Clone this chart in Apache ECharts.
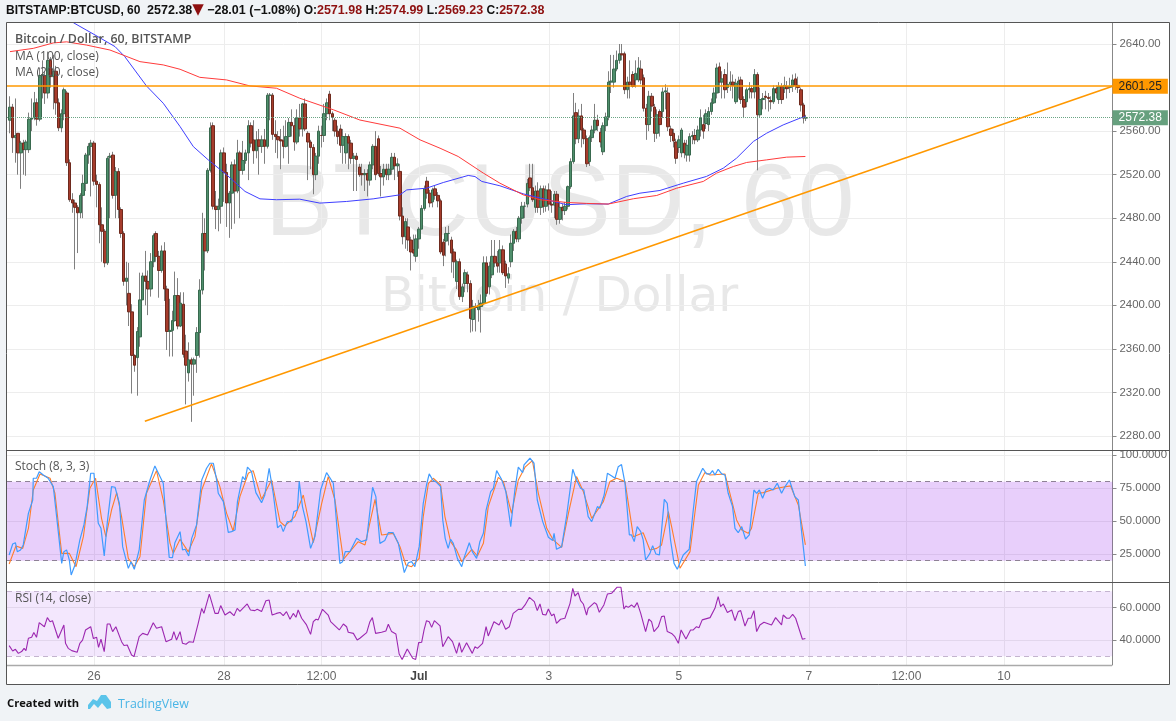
<!DOCTYPE html>
<html><head><meta charset="utf-8">
<style>html,body{margin:0;padding:0;background:#f0f3f6}#c{width:1176px;height:721px}</style>
<script src="https://cdn.jsdelivr.net/npm/echarts@6/dist/echarts.min.js"></script></head>
<body><div id="c"></div>
<script>
const firstHour=-31;
const opens=[2570,2582,2554,2558,2540,2549,2543,2543,2571,2572,2586,2571,2611,2611,2595,2625,2610,2615,2586,2563,2576,2595,2531,2497,2494,2490,2485,2501,2512,2538,2546,2549,2514,2511,2474,2468,2439,2536,2538,2501,2523,2488,2466,2422,2411,2394,2354,2352,2371,2405,2427,2422,2415,2440,2466,2445,2432,2450,2415,2376,2377,2386,2409,2381,2401,2358,2338,2350,2346,2354,2375,2414,2466,2450,2524,2565,2491,2488,2491,2540,2522,2494,2503,2529,2505,2540,2524,2533,2540,2565,2552,2542,2552,2546,2552,2546,2593,2593,2557,2555,2552,2551,2546,2555,2568,2565,2550,2572,2562,2585,2558,2550,2545,2520,2537,2556,2556,2576,2594,2576,2570,2560,2562,2547,2540,2555,2549,2535,2537,2527,2521,2520,2521,2515,2529,2546,2553,2521,2518,2525,2520,2525,2536,2528,2523,2482,2463,2472,2460,2451,2445,2461,2470,2489,2514,2503,2495,2507,2501,2496,2458,2459,2466,2460,2449,2422,2440,2408,2420,2428,2420,2387,2399,2396,2399,2402,2439,2417,2428,2445,2439,2439,2451,2438,2425,2440,2457,2468,2461,2480,2491,2493,2517,2508,2490,2505,2490,2507,2491,2506,2493,2492,2502,2479,2490,2487,2491,2509,2532,2577,2553,2574,2561,2553,2532,2554,2561,2570,2559,2541,2565,2573,2605,2605,2617,2625,2631,2631,2598,2605,2612,2607,2607,2617,2609,2581,2566,2592,2582,2558,2578,2578,2596,2595,2562,2558,2550,2545,2540,2549,2538,2538,2555,2556,2552,2561,2566,2567,2566,2578,2586,2595,2619,2605,2612,2600,2603,2605,2587,2604,2607,2589,2587,2598,2599,2596,2612,2575,2589,2592,2591,2588,2587,2599,2589,2601,2599,2601,2600,2601,2608,2602,2598,2584,2571.98];
const closes=[2582,2554,2556,2540,2549,2543,2550,2571,2572,2586,2571,2611,2612,2595,2625,2610,2615,2586,2563,2576,2598,2531,2497,2494,2490,2485,2501,2512,2538,2546,2549,2514,2511,2474,2468,2439,2535,2537,2501,2523,2488,2466,2422,2425,2394,2354,2345,2376,2405,2427,2422,2415,2440,2464,2445,2432,2450,2415,2376,2377,2386,2409,2381,2402,2355,2345,2350,2346,2350,2375,2414,2466,2450,2524,2563,2491,2488,2491,2540,2522,2494,2503,2529,2505,2540,2524,2533,2540,2565,2549,2542,2552,2546,2552,2546,2593,2593,2557,2555,2552,2551,2546,2555,2568,2565,2550,2572,2562,2585,2562,2550,2545,2520,2537,2560,2556,2576,2586,2576,2573,2560,2555,2547,2555,2555,2549,2535,2537,2534,2520,2520,2521,2515,2529,2546,2520,2521,2518,2525,2520,2525,2536,2528,2530,2482,2463,2477,2460,2449,2448,2461,2470,2489,2507,2503,2494,2506,2501,2496,2449,2446,2466,2466,2448,2440,2440,2408,2417,2430,2420,2388,2399,2398,2400,2402,2439,2411,2436,2445,2439,2436,2451,2430,2427,2429,2457,2468,2461,2480,2491,2491,2512,2508,2497,2505,2490,2507,2491,2506,2493,2492,2502,2479,2490,2487,2491,2509,2532,2574,2553,2574,2561,2553,2530,2554,2561,2570,2565,2550,2565,2573,2605,2606,2617,2625,2631,2630,2598,2605,2603,2601,2613,2618,2607,2581,2566,2592,2583,2558,2575,2566,2596,2597,2564,2556,2551,2535,2552,2561,2540,2547,2555,2556,2552,2561,2572,2560,2576,2578,2586,2595,2618,2605,2608,2598,2603,2605,2602,2604,2606,2589,2582,2598,2599,2596,2612,2575,2589,2590,2591,2590,2587,2599,2595,2601,2589,2602,2599,2601,2607,2602,2600,2584,2572,2572.38];
const lows=[2558,2540,2531,2520,2507,2520,2519,2540,2560,2570,2565,2569,2590,2585,2590,2600,2580,2575,2560,2559,2570,2528,2495,2485,2433,2448,2480,2480,2505,2530,2500,2510,2490,2457,2440,2435,2437,2480,2498,2480,2480,2462,2418,2400,2381,2319,2339,2317,2362,2405,2400,2391,2408,2435,2440,2407,2430,2404,2359,2353,2353,2385,2378,2380,2352,2309,2330,2293,2317,2338,2352,2410,2432,2448,2522,2488,2470,2468,2475,2495,2472,2462,2470,2475,2503,2480,2520,2530,2515,2545,2530,2535,2520,2540,2530,2544,2570,2552,2540,2535,2525,2535,2545,2530,2555,2542,2548,2555,2555,2560,2515,2525,2502,2515,2530,2545,2550,2570,2570,2560,2555,2548,2540,2530,2530,2525,2530,2505,2505,2518,2510,2505,2500,2510,2525,2515,2519,2500,2510,2515,2515,2520,2515,2518,2478,2456,2452,2450,2432,2445,2440,2452,2470,2487,2498,2490,2490,2497,2490,2447,2436,2445,2455,2430,2425,2415,2405,2403,2412,2412,2375,2376,2376,2385,2375,2400,2408,2410,2425,2435,2430,2430,2428,2416,2420,2435,2450,2458,2458,2475,2480,2490,2505,2495,2485,2485,2483,2485,2486,2487,2485,2480,2474,2475,2478,2483,2488,2507,2530,2548,2549,2545,2548,2527,2528,2550,2558,2560,2545,2538,2560,2570,2595,2600,2615,2622,2625,2594,2590,2590,2600,2600,2605,2603,2578,2552,2560,2578,2550,2553,2555,2572,2580,2560,2550,2545,2530,2540,2536,2535,2532,2532,2548,2548,2550,2555,2553,2562,2560,2575,2585,2590,2595,2590,2590,2595,2597,2590,2585,2590,2585,2572,2582,2590,2590,2590,2524,2572,2580,2580,2578,2580,2585,2590,2585,2585,2595,2590,2595,2596,2598,2595,2578,2567,2569.23];
const highs=[2592,2585,2590,2558,2551,2552,2552,2577,2590,2596,2590,2618,2625,2615,2633,2628,2630,2620,2590,2580,2600,2597,2534,2503,2497,2492,2503,2520,2540,2549,2552,2551,2520,2513,2490,2470,2537,2540,2541,2527,2526,2490,2468,2440,2439,2401,2355,2380,2430,2430,2450,2432,2448,2466,2468,2450,2455,2458,2418,2406,2395,2431,2425,2412,2412,2373,2366,2352,2352,2380,2424,2485,2480,2526,2568,2568,2505,2498,2543,2545,2530,2505,2532,2534,2552,2542,2551,2543,2570,2568,2570,2560,2562,2556,2562,2595,2595,2595,2570,2560,2562,2565,2570,2572,2580,2572,2580,2585,2586,2590,2560,2552,2548,2540,2565,2565,2585,2590,2597,2578,2572,2565,2566,2562,2558,2557,2552,2540,2540,2530,2530,2525,2525,2532,2548,2560,2556,2528,2530,2530,2530,2540,2540,2535,2530,2490,2480,2480,2463,2465,2465,2472,2492,2510,2518,2506,2508,2510,2504,2498,2461,2472,2473,2463,2452,2442,2443,2420,2433,2431,2423,2405,2402,2405,2410,2445,2445,2440,2460,2460,2450,2460,2455,2441,2435,2465,2470,2472,2482,2495,2495,2516,2530,2530,2510,2513,2510,2510,2510,2512,2505,2505,2505,2495,2493,2495,2510,2535,2595,2586,2580,2585,2563,2556,2556,2565,2585,2575,2563,2568,2577,2615,2630,2630,2634,2640,2640,2633,2610,2625,2615,2625,2628,2625,2612,2585,2597,2595,2585,2580,2580,2600,2603,2600,2565,2562,2553,2556,2563,2552,2552,2558,2560,2562,2565,2580,2575,2580,2582,2590,2600,2622,2623,2615,2617,2623,2615,2612,2608,2610,2610,2592,2600,2605,2602,2617,2614,2600,2595,2597,2595,2592,2602,2602,2605,2604,2610,2606,2609,2612,2613,2610,2600,2586,2574.99];
const ma100Hours=[-7.6,0.4,7.8,11.4,19.4,25.6,31.8,36.7,42.2,49,55.8,61.3,67.4,76,83.4,93.3,103.1,113,115.5,122.8,129,138.2,140.7,143.2,149.9,158.5,165.9,174.5,181.9,189.9,196.7,201.6,209,217.6,226.2,232.4,237.3,243.5,248.4,254.5,260.7,262.7];
const ma100=[2659.6,2648.3,2637.6,2628.4,2601.5,2585.6,2564.2,2545.8,2533.6,2519.9,2504.6,2497.8,2497,2497.5,2493.9,2495.4,2497.8,2501.5,2506,2507.6,2512.8,2519.3,2518.3,2513.8,2509.8,2502.4,2497.9,2492.4,2493.3,2493,2500,2503,2505.5,2512.2,2518.4,2526,2535.2,2550.5,2558.1,2565.7,2571.9,2573.4];
const ma200Hours=[-31,-22.4,-15,-10.1,-2.7,5.9,17,25.6,31.8,39.1,49,57.6,67.4,76,88.4,98.2,113,120.4,127.8,134.5,143.8,149.9,158.5,164.7,174.5,181.9,189.9,199.2,207.8,215.2,225,229.9,236.1,241,248.4,255.8,262.7];
const ma200=[2633,2636,2641,2642,2639,2634.5,2623.8,2620.8,2616.8,2609.4,2607,2601.5,2599.4,2590.2,2579.6,2570.2,2562.7,2552,2544.3,2536.7,2521.4,2512.2,2501.5,2497,2494.5,2493.6,2493,2497.9,2500.9,2507.6,2513.8,2521.4,2527.5,2531.2,2533.6,2536.1,2536.7];
const stochKHours=[-31.3,-30,-29,-28.3,-27.1,-26.1,-24.2,-22.6,-22.4,-21.2,-20.2,-18.7,-16.9,-15,-13.5,-11.9,-11.1,-10.1,-9.1,-8.4,-7,-5.2,-3.7,-2.5,-1.2,0,1.6,2.6,3.8,4.9,6.5,7.8,9.4,10.6,12.7,13.7,14.9,16.7,18.6,20.7,22.5,25.6,26.8,27.8,29,29.9,31.8,32.7,33.7,35,36.1,37.9,39.8,41.6,42.8,44.1,45.3,45.9,47.8,49.6,50.8,52.1,53,54.9,55.8,56.7,58.2,59.8,61.9,63.1,64.7,66.2,67.8,69,69.9,71.4,73,73.8,75.1,75.8,77,78.3,80,81.6,83.7,85.9,88.4,90.8,91.8,92.8,94.5,97,98.8,100.7,102.9,104.1,105.6,107.4,108.7,110.5,112.4,114.6,116.1,117.3,118.5,120.1,121.6,122.8,123.8,125.1,126.5,128,128.8,129.7,130.8,131.7,132.7,134.2,134.9,135.8,136.6,138.6,139.7,141.3,142.5,143.8,144.8,146.5,147.5,148.7,150.5,152.1,153.9,155.5,156.7,158.3,158.8,161,162.5,163.7,165.7,167.8,169.4,169.9,170.8,172.7,174.5,175.8,176.8,178.2,179.7,180.9,182.5,183.8,185.9,186.8,188.4,189.6,191.2,192.4,193.6,194.8,196.1,197.7,198.5,199.5,200.6,201.9,202.8,203.7,205.3,206.3,207.5,208.8,210.6,211.7,212.9,214.2,215.4,216.1,217.6,219.8,221.3,222.5,224.8,226.2,227.5,228.4,229.3,230.5,231.8,233,234.2,235.8,236.7,237.9,239.2,240.6,242,243.7,244.7,245.7,246.9,248.1,249.4,250.8,252.3,253.9,255.2,256.8,258.8,260.1,261.3,262.7];
const stochK=[24.4,32.7,33.7,26.9,28.2,32,56,66.1,82.6,82.6,87.6,85.1,82.6,76.3,48.4,18,26.9,28.2,20.6,9.2,16.8,35.8,47.2,61.1,86.4,86.4,48.4,44.6,23.6,48.4,76.3,75.8,63.6,30.7,14.2,19.3,13.5,28.2,66.1,81.3,92,78.8,45.9,22.6,22.3,33.7,42.1,28.2,28.7,23.6,37,47.2,81.3,90.2,94,94,81.3,71.2,64.9,41.6,42.1,43.4,64.9,83.9,81.3,91,87.6,71.7,64.1,69.9,90.2,71.2,45.1,47.2,42.1,49.7,49.7,57.3,58.5,80.1,61.1,49.7,29.4,38.3,73.7,86.9,78.8,18,19.3,26.9,26.9,37,34.5,35.8,75.8,68.7,33.2,35.3,41.3,41.3,33.2,11,18.5,19.3,15.5,30.7,63.6,77.5,85.9,81.3,79.5,76.3,50.9,37,29.4,36.3,33.2,21.8,21.8,15.5,21.8,33.7,26.9,21.8,34.5,40.8,58.5,72.5,75,88.4,81.8,72.5,45.9,75,91,86.9,92.7,97.8,94,66.1,49.7,37.8,35.3,40.8,28.7,30.7,53.5,73.7,89.4,81.3,75,73.7,53.5,49.7,61.1,59.8,69.9,86.4,84.4,82.6,91.4,93,78.8,39.6,39.6,34.5,45.9,42.1,35.8,20.6,25.6,31.5,25.1,24.4,66.6,63.6,35.8,18,13.5,13.5,24.4,28.7,58.5,80.1,90.2,85.9,85.9,88.4,85.1,89.4,85.9,85.1,71.2,61.1,44.6,41.3,45.9,36.5,39.6,73.7,71.2,73.7,67.4,73.7,75,73.7,78.8,71.2,76.3,81.3,68.7,66.1,42.1,16];
const stochDHours=[-31.3,-28.8,-26.3,-24.2,-22.4,-19.9,-16.2,-14.4,-11.9,-9.1,-6.6,-3.9,-1.5,0.6,2.8,4.4,6.5,8.4,10.2,12.7,14.9,17,19.4,23.1,25.6,28.1,29.3,31.8,34.8,37.3,39.8,43.4,46.5,49,51.4,53.9,57,58.8,61.9,65.6,68.7,70.5,74.2,77.3,81,84.1,86.5,89,92.1,97.6,100.1,103.8,106.2,110.5,113,115.2,117.3,120.1,121.6,123.5,125.3,128,129.6,131.7,133.9,135.8,139.5,141.6,143.8,145.6,149.3,151.2,154.2,156.7,159.2,161.9,164.1,167.2,169.6,172.7,175.2,178.2,180.7,183.8,188.1,190.5,193,196.1,199.2,202.8,205.3,207.8,209.6,212.1,213.3,216.4,220.1,223.2,225.6,227.5,233,237.3,239.2,241.6,242.8,245.3,247.2,252.1,257.2,260.1,262.7];
const stochD=[17.5,31.2,29.4,44.6,73.7,85.9,82.6,71.2,25.6,25.6,15.5,38.3,75,82.6,52.2,38.3,58.5,71.7,53.5,21.8,15.5,23.1,71.2,88.4,66.1,33.2,25.6,36.3,26.9,38.3,73.7,93.5,76.3,56,42.6,68.7,86.4,88.4,66.6,81.3,49.7,46.4,53.5,69.9,33.7,63.6,83.9,66.1,21.1,34.5,32,66.6,39.6,40.8,30.7,16.8,15.5,21.8,53.5,78.8,82.6,77.5,53.5,34.5,28.2,19.3,28.7,23.6,33.2,61.1,83.3,80.1,56,81.3,91,96,71.2,44.6,35.8,30.2,56,83.9,72.5,52.2,64.9,80.1,82.6,80.1,38.3,41.3,28.2,29.4,32,57.3,45.9,14.3,26.9,77.5,86.9,85.1,85.9,51,43.4,40.8,44.6,71.2,71.7,75,76.8,62.3,32];
const rsiHours=[-31.3,-30,-29,-27.9,-26.7,-25.8,-25.1,-24.2,-23,-22.2,-21.2,-20.2,-18.3,-17.2,-16.2,-15.3,-13.2,-11.1,-10.5,-9.5,-8.2,-6.2,-5.2,-4.2,-3.1,-1.2,-0.2,1,1.7,2.6,3.8,4.9,5.9,6.9,8.1,10.2,11.1,12.3,13.9,14.8,16.7,18,19.8,21.9,23.1,25,26.6,28.7,29.5,30.5,31.8,32.7,34,35.2,36.7,38.5,39.8,40.6,42.6,44.7,45.9,46.8,48.4,50.2,51.7,52.9,53.9,56.6,57.8,59.4,60.3,61.9,63.5,64.7,65.8,67.4,68.7,69.9,71.1,72.4,73.6,74.6,75.4,76.7,78.5,80,81,82,82.8,84.4,86.5,87.4,90.6,92.1,93.3,93.9,95.8,97.2,98.2,98.8,100.7,101.9,102.8,104,106.2,107.8,108.7,109.9,111.5,112.7,113.8,115.7,117.7,118.8,119.9,121,121.9,122.8,123.8,124.7,125.7,127.8,128.8,130.8,132.4,133.9,134.9,135.8,137.6,139.7,140.7,141.6,143.5,144.8,145.6,147.7,149.6,150.5,152,153.4,154.8,155.5,156.7,157.9,159.2,160.8,162.6,163.7,164.7,165.7,166.9,167.8,169,169.9,170.8,172.3,173.9,175.8,176.8,177.6,178.8,179.7,180.7,181.9,182.5,184.8,185.6,186.6,188.3,189.6,191.2,193.2,194.6,195.7,196.4,197.3,198.5,199.5,200.6,201.9,203.7,204.9,205.9,206.8,208.4,209.6,210.6,211.7,213.3,214.5,215.8,216.8,218.6,220.3,221.3,222.5,223.4,224.6,227.5,229.3,230.5,231.4,232.4,233.9,235.5,236.7,237.9,238.8,240.4,241.6,242.6,243.7,244.7,245.9,247.4,250.2,251.7,253.9,254.5,255.8,256.8,258,259.1,259.8,261.6,262.7];
const rsi=[36.6,33.3,34.3,31.8,32.9,34.9,33.5,41.1,41.7,44.6,41.7,50.7,48.2,53.8,51.3,51.9,41.1,49.3,38,34.9,33.5,32.5,38,40,46.2,48.2,40.9,41.7,35.5,40.5,32.9,49.9,49.9,45.2,48.2,39,36.6,37,30.8,29.8,42.1,44.1,43.1,50.7,47.2,48.2,39,40.5,45.2,40,45.2,38,37.4,39,38.6,50.3,59.5,56.4,68.3,56.4,56.4,61.2,55.4,57.4,55,59.5,57.7,62.2,58.5,58.1,58.9,57.5,64.2,64.6,55.4,56.4,57,55,57.5,52.8,56.4,54,58.5,53.4,49.3,43.5,51.3,52.8,52.4,58.9,55.4,51.3,46.2,49.9,48.2,44.8,44.1,40,41.1,40,44.6,51.3,53.8,44.1,44.8,45.6,49.7,45.2,43.7,31.4,28.1,34.5,28.8,28.1,38.4,38.6,46.2,51.9,51.3,47.8,51.9,48.7,35.9,42.1,39,31.8,38.4,32.5,38.4,31.8,35.9,34.9,38,48.2,42.5,51.3,49.3,52.4,46.6,48.2,56.4,55.4,58.9,58.9,61.6,66.3,63.6,58.1,62.2,55.8,55.4,59.1,55,56,50.3,52.8,53.4,62.6,71.8,67.1,69.2,64.3,62.2,55.4,59.5,63,62,57.1,61.6,68.3,68.8,72.5,72.5,59.1,61,60.1,61.6,60.1,63,56.4,45.2,52.8,51.3,45.2,48.2,54.4,54.8,45.2,44.1,42.1,38,46.2,40.7,46.2,46.2,48.2,47.6,52.4,53.8,59.5,66.7,60.6,62.2,56.9,58.5,51.9,57.5,58.1,48.6,53.4,53.4,58.1,45.2,49.3,50.9,49.3,53.8,49.3,55.4,53.4,53.4,55.8,53.4,54,40.5,41];
const resistance=2601.25, lastPrice=2572.38;
const trendHours=[18.8,376.1], trendValues=[2293.5,2601.25];
const priceTicks=[2280,2320,2360,2400,2440,2480,2520,2560,2640];
const stochTicks=[25,50,75,100], rsiTicks=[40,60];
const stochBand=[20,80], rsiBand=[30,70];
const timeTicks=[0,48,84,120,168,216,264,300,336];
const timeLabels=['26','28','12:00','Jul','3','5','7','12:00','10'];

const H=firstHour;
const candles=opens.map((o,i)=>[H+i,o,closes[i],lows[i],highs[i]]);
const bodies=opens.map((o,i)=>[H+i,o,closes[i],Math.min(o,closes[i]),Math.max(o,closes[i])]);
const zip=(a,b)=>a.map((x,i)=>[x,b[i]]);
const xr={min:-32.1,max:376.1};
const xAxisBase=(gi,withLabel)=>({type:'value',gridIndex:gi,...xr,scale:true,
  axisLine:{show:false},
  axisTick:{show:false,customValues:timeTicks},
  splitLine:{show:true,lineStyle:{color:'#ededed',width:1}},
  axisLabel:withLabel?{show:true,customValues:timeTicks,color:'#666',fontSize:12,fontFamily:'Liberation Sans',margin:6,hideOverlap:false,
    formatter:v=>{const l=timeLabels[timeTicks.indexOf(v)];return l==='Jul'?'{b|Jul}':l},rich:{b:{fontWeight:'bold',color:'#444',fontSize:12,fontFamily:'Liberation Sans'}}}:{show:false}});
const yAxisBase=(gi,min,max,ticks,dec)=>({type:'value',gridIndex:gi,position:'right',min,max,scale:true,
  axisLine:{show:true,onZero:false,lineStyle:{color:'#888',width:1}},
  axisTick:{show:true,length:4,customValues:ticks,lineStyle:{color:'#888'}},
  splitLine:{show:true,lineStyle:{color:'#ededed',width:1}},
  axisLabel:{show:true,customValues:ticks,color:'#666',fontSize:11.4,fontFamily:'Liberation Sans',margin:7,formatter:v=>v.toFixed(dec)}});
const lineS=(x,y,data,color,width,z)=>({type:'line',xAxisIndex:x,yAxisIndex:y,data,symbol:'none',silent:true,z:z||4,lineStyle:{color,width},animation:false});
const bandMark=(band,fill,dash)=>({
  markArea:{silent:true,z:1,itemStyle:{color:fill},data:[[{yAxis:band[0]},{yAxis:band[1]}]]},
  markLine:{silent:true,symbol:'none',z:2,animation:false,label:{show:false},lineStyle:{color:dash,type:[5,4],width:1},data:[{yAxis:band[0]},{yAxis:band[1]}]}});
const tag=(bg,col)=>({show:true,position:'end',distance:0,formatter:p=>p.value.toFixed(2),backgroundColor:bg,color:col,fontSize:12,fontFamily:'Liberation Sans',padding:[2,6,1,6]});
const T=(text,x,y,o)=>({type:'text',left:x,top:y,z:20,silent:true,style:Object.assign({text,fill:'#555',font:'12px "Open Sans","Liberation Sans"'},o||{})});
const chart=echarts.init(document.getElementById('c'),null,{renderer:'canvas'});
chart.setOption({
  animation:false,backgroundColor:'#f0f3f6',
  grid:[{left:7,top:23,width:1105.5,height:427},{left:7,top:451,width:1105.5,height:131},{left:7,top:583,width:1105.5,height:82}],
  xAxis:[xAxisBase(0,false),xAxisBase(1,false),xAxisBase(2,true)],
  yAxis:[yAxisBase(0,2267.14,2659.3,priceTicks,2),yAxisBase(1,3.87,103.3,stochTicks,4),yAxisBase(2,24.65,75.1,rsiTicks,4)],
  title:{show:true,left:6,top:3,padding:0,textStyle:{fontSize:12,fontFamily:'Liberation Sans',rich:{
      a:{fontSize:12,fontWeight:'bold',color:'#111',fontFamily:'Liberation Sans'},
      n:{fontSize:12.5,color:'#111',fontFamily:'Liberation Sans'},
      t:{fontSize:15,color:'#8e1010',fontFamily:'DejaVu Sans'},
      r:{fontSize:12.5,color:'#8e1010',fontFamily:'Liberation Sans'}}},
    text:'{a|BITSTAMP:BTCUSD, 60}  {n|2572.38}{t|▼} {n|−28.01 (−1.08%)} {a|O:}{r|2571.98} {a|H:}{r|2574.99} {a|L:}{r|2569.23} {a|C:}{r|2572.38}'},
  graphic:{elements:[
    {type:'rect',z:-10,silent:true,shape:{x:7,y:23,width:1162,height:661},style:{fill:'#fff'}},
    {type:'rect',z:30,silent:true,shape:{x:6.5,y:22.5,width:1163,height:662},style:{fill:null,stroke:'#555',lineWidth:1}},
    {type:'line',z:30,silent:true,shape:{x1:7,y1:450.5,x2:1169,y2:450.5},style:{stroke:'#555',lineWidth:1}},
    {type:'line',z:30,silent:true,shape:{x1:7,y1:582.5,x2:1169,y2:582.5},style:{stroke:'#555',lineWidth:1}},
    {type:'line',z:30,silent:true,shape:{x1:7,y1:665.5,x2:1112,y2:665.5},style:{stroke:'#aaa',lineWidth:1.5}},
    {type:'text',left:265,top:156,z:-1,silent:true,style:{text:'BTCUSD, 60',fill:'#e8e8e8',font:'102px "Liberation Sans"'}},
    {type:'text',left:381,top:274,z:-1,silent:true,style:{text:'Bitcoin / Dollar',fill:'#e8e8e8',font:'48.5px "DejaVu Sans"'}},
    T('Bitcoin / Dollar, 60, BITSTAMP',15,33,{font:'600 12.4px "Open Sans"'}),
    T('MA (100, close)',15,51),T('MA (200, close)',15,67),
    T('Stoch (8, 3, 3)',15,461),T('RSI (14, close)',15,593),
    T('Created with',7,698,{fill:'#111',font:'bold 11.2px "Open Sans"'}),
    T('TradingView',118,698,{fill:'#49b5e6',font:'12.4px "Open Sans"'}),
    {type:'polygon',z:20,silent:true,shape:{points:[[88,705],[93,699],[97,701],[101,695],[106,695],[111,702],[111,708],[107,709],[102,703],[98,708],[94,704],[90,709],[88,709]]},style:{fill:'#5bc4ea'}}
  ]},
  series:[
    {type:'candlestick',name:'wicks',xAxisIndex:0,yAxisIndex:0,data:candles,barWidth:1,z:3,silent:true,
     itemStyle:{color:'#808080',color0:'#808080',borderColor:'#808080',borderColor0:'#808080',borderWidth:1},
     markLine:{silent:true,symbol:'none',z:6,animation:false,data:[
       {yAxis:resistance,lineStyle:{color:'#ff9800',width:1.5,type:'solid'},label:tag('#ff9800','#222')},
       {yAxis:lastPrice,lineStyle:{color:'#6aa584',width:1,type:'dotted'},label:tag('#66a07e','#fff')}]}},
    {type:'candlestick',name:'bodies',xAxisIndex:0,yAxisIndex:0,data:bodies,barWidth:3,z:4,silent:true,
     itemStyle:{color:'#4f8f6c',color0:'#a63c2c',borderColor:'#38694e',borderColor0:'#6e2a1e',borderWidth:1}},
    lineS(0,0,zip(ma100Hours,ma100),'#3f3fff',1,5),
    lineS(0,0,zip(ma200Hours,ma200),'#ff3b3b',1,5),
    lineS(0,0,zip(trendHours,trendValues),'#ff9800',1.6,6),
    Object.assign(lineS(1,1,zip(stochDHours,stochD),'#ff7d2a',1.1,4),bandMark(stochBand,'rgba(140,15,235,0.2)','#8f8296')),
    lineS(1,1,zip(stochKHours,stochK),'#3f9bff',1.2,5),
    Object.assign(lineS(2,2,zip(rsiHours,rsi),'#9c27b0',1.1,4),bandMark(rsiBand,'rgba(140,15,235,0.1)','#c4b4cf'))
  ]
});
</script></body></html>
